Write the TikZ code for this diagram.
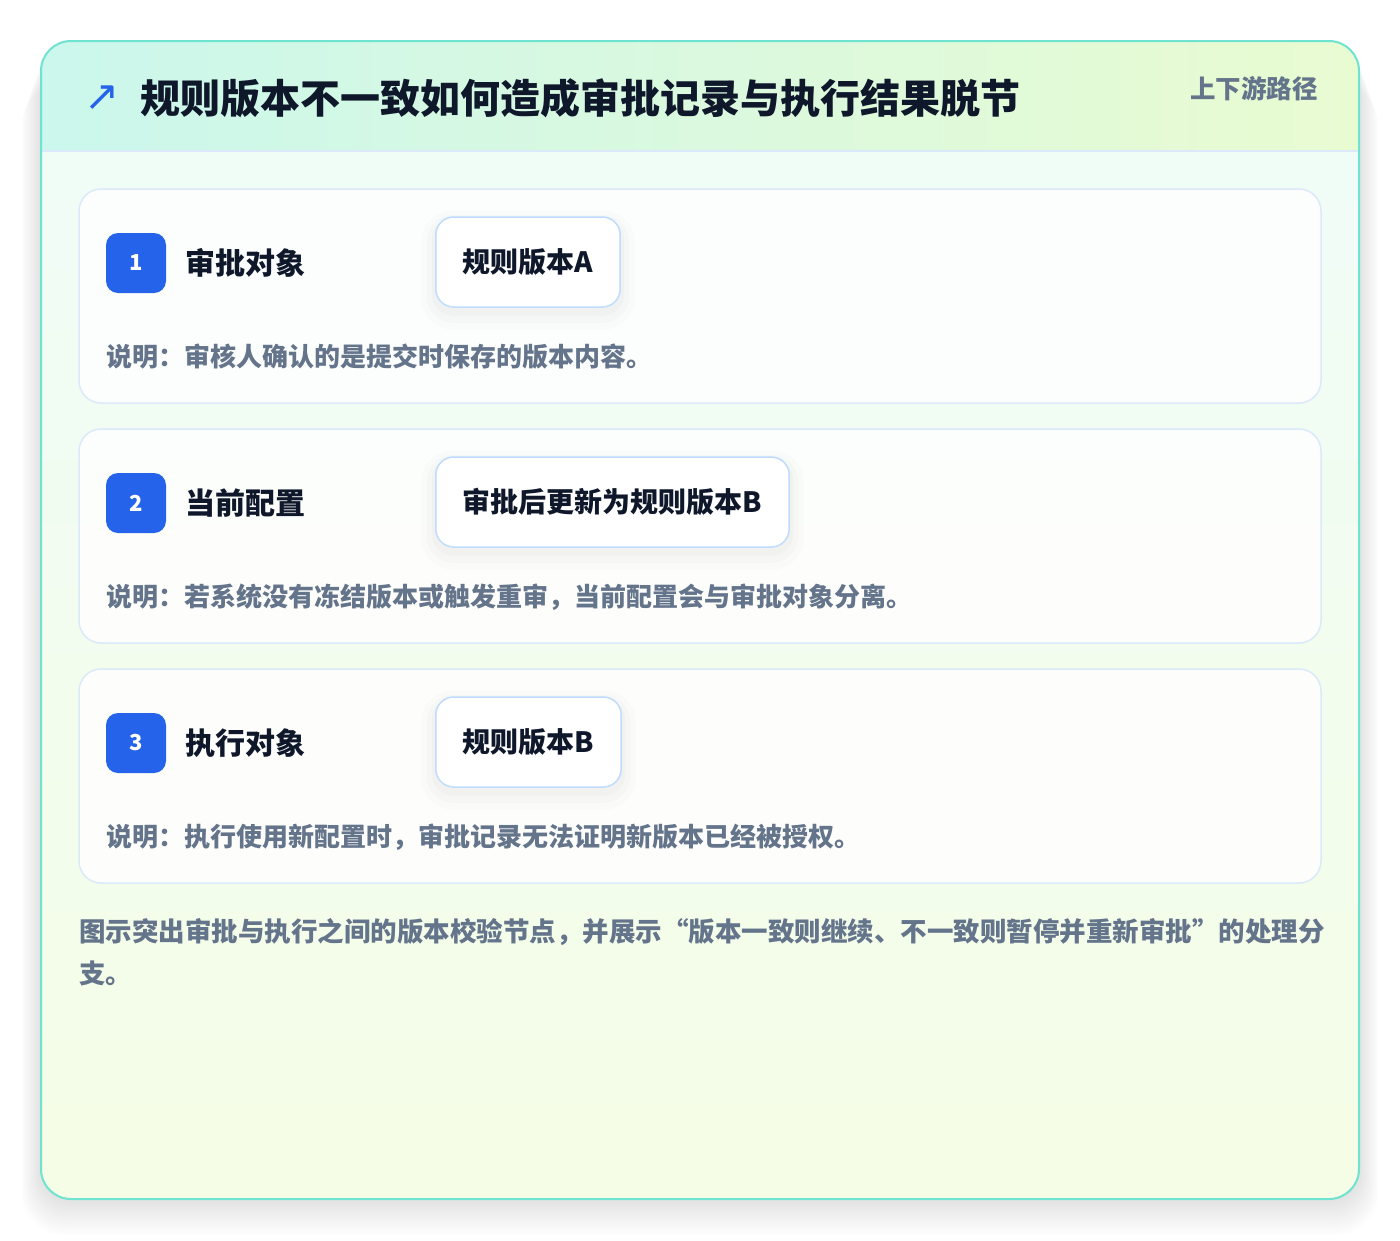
\documentclass[tikz,border=0pt]{standalone}
\usepackage{fontspec}
\setmainfont{Noto Sans CJK SC}
\newfontfamily\symfont{DejaVu Sans}
\usetikzlibrary{positioning,calc}

\definecolor{cardline}{HTML}{6EE3CF}
\definecolor{headL}{HTML}{CBF7EC}
\definecolor{headR}{HTML}{E9FBD1}
\definecolor{bodyT}{HTML}{EFFCF8}
\definecolor{bodyB}{HTML}{F5FDE6}
\definecolor{stepline}{HTML}{DCE9FA}
\definecolor{pillline}{HTML}{BFDBFE}
\definecolor{badgeblue}{HTML}{2563EB}
\definecolor{ink}{HTML}{0F172A}
\definecolor{muted}{HTML}{64748B}

\tikzset{
  stepcard/.style={draw=stepline, line width=1.5pt, fill=white, fill opacity=0.85,
    rounded corners=22pt, minimum width=1242pt, minimum height=214pt, inner sep=0pt},
  badge/.style={fill=badgeblue, rounded corners=12pt, minimum size=60pt, inner sep=0pt,
    text=white, font=\bfseries\fontsize{22}{26}\selectfont},
  steplabel/.style={inner sep=0pt, text=ink, font=\bfseries\fontsize{30}{36}\selectfont},
  verpill/.style={draw=pillline, line width=1.5pt, fill=white, rounded corners=18pt,
    minimum height=90pt, inner xsep=27pt, text=ink, font=\bfseries\fontsize{28}{32}\selectfont,
    preaction={draw=black, opacity=0.012, line width=30pt, transform canvas={yshift=-8pt}},
    preaction={draw=black, opacity=0.015, line width=18pt, transform canvas={yshift=-7pt}},
    preaction={draw=black, opacity=0.018, line width=8pt, transform canvas={yshift=-5pt}}},
  stepnote/.style={inner sep=0pt, text=muted, font=\bfseries\fontsize{26}{30}\selectfont},
  footnote/.style={inner sep=0pt, text=muted, align=left, font=\bfseries\fontsize{26.5}{42}\selectfont}
}

\begin{document}
\begin{tikzpicture}[x=1pt,y=-1pt]
\useasboundingbox (0,0) rectangle (1400,1240);
\fill[white] (0,0) rectangle (1400,1240);

% soft shadow under the card
\foreach \k in {1,...,14}
  \fill[black, opacity=0.007, rounded corners={30pt+\k pt}]
    (41-1.4*\k,41+3*\k) rectangle (1359+1.4*\k,1199+2.6*\k);

% card body and header band
\fill[rounded corners=30pt, top color=bodyT, bottom color=bodyB] (41,41) rectangle (1359,1199);
\begin{scope}
  \clip[rounded corners=30pt] (41,41) rectangle (1359,1199);
  \fill[left color=headL, right color=headR] (41,41) rectangle (1359,151);
\end{scope}
\draw[stepline, line width=1.5pt] (41,151) -- (1359,151);
\draw[cardline, line width=2pt, rounded corners=30pt] (41,41) rectangle (1359,1199);

% header
\node[inner sep=0pt, text=badgeblue, font=\symfont\fontsize{42}{42}\selectfont] (arrow) at (102,98) {↗};
\node[inner sep=0pt, anchor=west, text=ink, font=\bfseries\fontsize{40}{48}\selectfont]
  (title) at (140,98) {规则版本不一致如何造成审批记录与执行结果脱节};
\node[inner sep=0pt, anchor=east, text=muted, font=\bfseries\fontsize{25.5}{30}\selectfont]
  (route) at (1318,89) {上下游路径};

% the three steps
\foreach \i/\lab/\ver/\note in {
    1/审批对象/规则版本A/{说明：审核人确认的是提交时保存的版本内容。},
    2/当前配置/审批后更新为规则版本B/{说明：若系统没有冻结版本或触发重审，当前配置会与审批对象分离。},
    3/执行对象/规则版本B/{说明：执行使用新配置时，审批记录无法证明新版本已经被授权。}} {
  \pgfmathsetmacro\top{189+240*(\i-1)}
  \node[stepcard] (card\i) at (700,\top+107) {};
  \node[badge] (badge\i) at (136,\top+74) {\i};
  \node[steplabel, right=19pt of badge\i] (label\i) {\lab};
  \node[verpill, anchor=west] (ver\i) at (435,\top+73) {\ver};
  \node[stepnote, anchor=west] (note\i) at (106,\top+168) {\note};
}

% closing remark
\node[footnote, anchor=north west] (remark) at (79,918)
  {图示突出审批与执行之间的版本校验节点，并展示“版本一致则继续、不一致则暂停并重新审批”的处理分\\支。};
\end{tikzpicture}
\end{document}
